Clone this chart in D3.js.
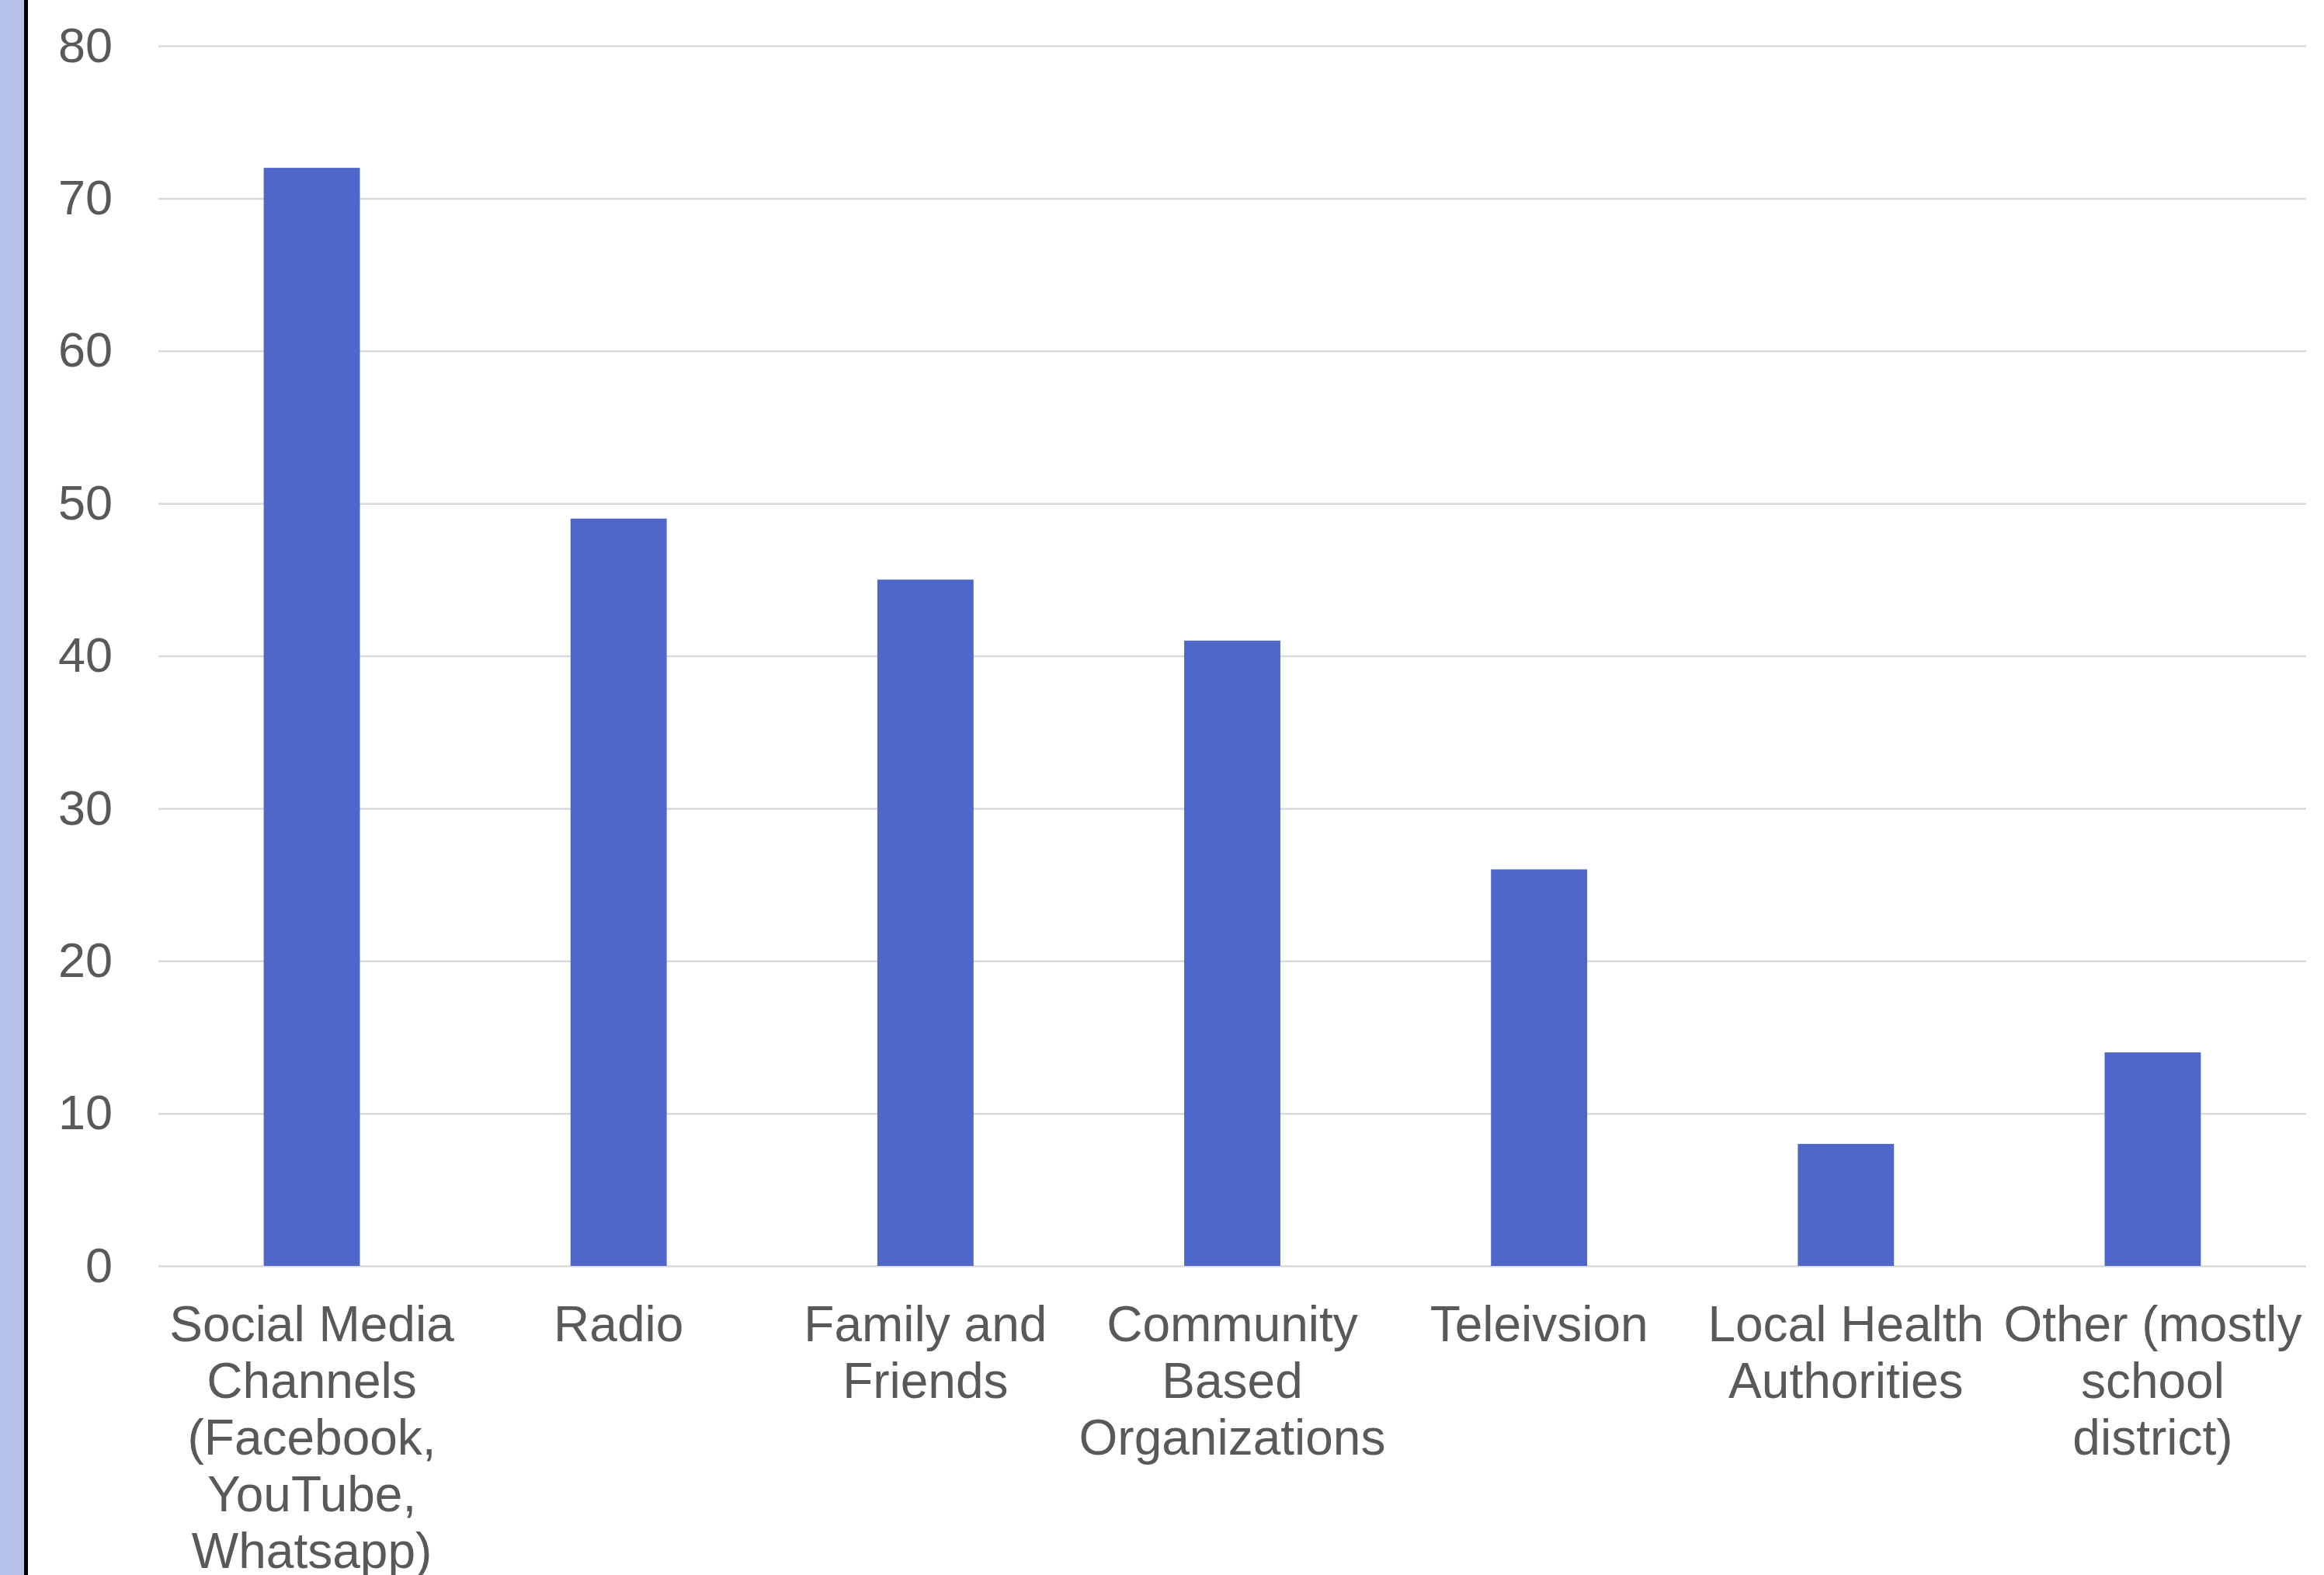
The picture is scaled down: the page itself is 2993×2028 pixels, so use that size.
<!DOCTYPE html>
<html>
<head>
<meta charset="utf-8">
<script src="https://cdn.jsdelivr.net/npm/d3@7"></script>
<style>
    body { margin: 0; background: #fff; overflow: hidden; }
    .axis text { font-family: "Liberation Sans", Arial, sans-serif; fill: #595959; }
</style>
</head>
<body>
<div id="chart"></div>
<script>
// data
const categories = ["Social Media", "Radio", "Family and Friends", "Community Based", "Teleivsion", "Local Health", "Other"];
const labelLines = [
    ["Social Media", "Channels", "(Facebook,", "YouTube,", "Whatsapp)"],
    ["Radio"],
    ["Family and", "Friends"],
    ["Community", "Based", "Organizations"],
    ["Teleivsion"],
    ["Local Health", "Authorities"],
    ["Other (mostly", "school", "district)"]
];
const values = [72, 49, 45, 41, 26, 8, 14];
const yTicks = [0, 10, 20, 30, 40, 50, 60, 70, 80];

const W = 2993, H = 2028;
const margin = {top: 59, right: 23, bottom: 398, left: 204};
const width = W - margin.left - margin.right;
const height = H - margin.top - margin.bottom;

const svg = d3.select("#chart").append("svg")
    .attr("width", W)
    .attr("height", H);

// light blue strip and black rule on the left edge
svg.append("rect").attr("x", 0).attr("y", 0).attr("width", 31).attr("height", H).attr("fill", "#B6C2EA");
svg.append("rect").attr("x", 31).attr("y", 0).attr("width", 5).attr("height", H).attr("fill", "#000");

const g = svg.append("g")
    .attr("transform", `translate(${margin.left}, ${margin.top})`);

const x = d3.scaleBand()
    .domain(categories)
    .range([0, width])
    .paddingInner(0.6865)
    .paddingOuter(0.34325);

const y = d3.scaleLinear()
    .domain([0, 80])
    .range([height, 0]);

// y axis + gridlines
const yAxis = g.append("g")
    .attr("class", "axis y-axis")
    .call(d3.axisLeft(y).tickValues(yTicks).tickSize(-width).tickPadding(59));
yAxis.select(".domain").remove();
yAxis.selectAll("line").attr("stroke", "#D9D9D9").attr("stroke-width", 2.5);
yAxis.selectAll("text").style("font-size", "63px");

// bars
g.selectAll(".bar")
    .data(values)
    .enter()
    .append("rect")
    .attr("class", "bar")
    .attr("x", (d, i) => x(categories[i]))
    .attr("y", d => y(d))
    .attr("width", x.bandwidth())
    .attr("height", d => height - y(d))
    .attr("fill", "#4E67C8");

// x axis with wrapped labels
const xAxis = g.append("g")
    .attr("class", "axis x-axis")
    .attr("transform", `translate(0, ${height})`)
    .call(d3.axisBottom(x).tickSize(0));
xAxis.select(".domain").remove();
xAxis.selectAll(".tick text").each(function (d, i) {
    const t = d3.select(this).text(null).attr("y", 97).attr("dy", null).style("font-size", "64px");
    labelLines[i].forEach((line, k) => {
        t.append("tspan").attr("x", 0).attr("dy", k === 0 ? 0 : 73).text(line);
    });
});
</script>
</body>
</html>
